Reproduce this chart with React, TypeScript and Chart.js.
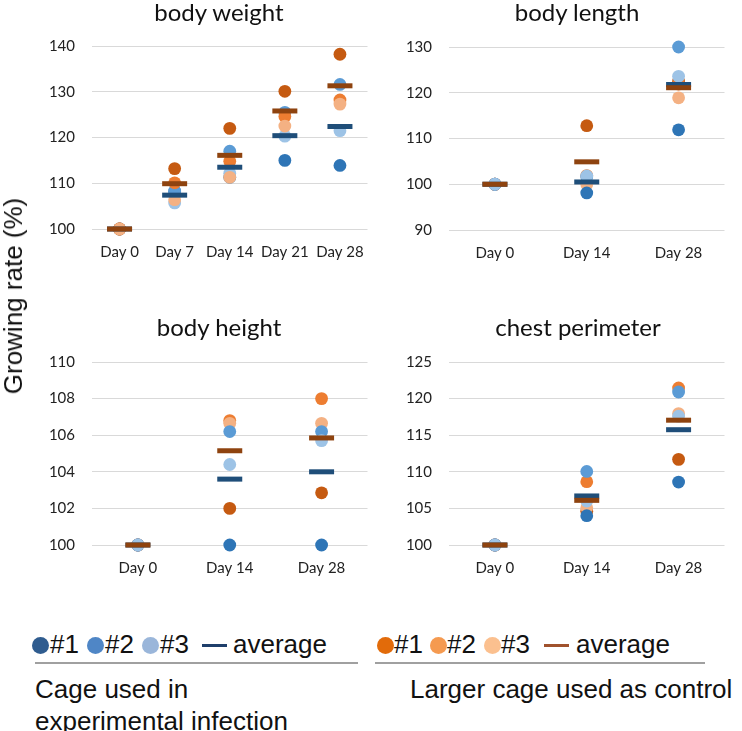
import React, { useEffect, useRef } from "react";
import { Chart, registerables } from "chart.js";

Chart.register(...registerables);

const DAYS_5 = ["Day 0", "Day 7", "Day 14", "Day 21", "Day 28"];
const DAYS_3 = ["Day 0", "Day 14", "Day 28"];

// body weight (%)
const weightCage1 = [100, 108.2, 111.3, 115.0, 113.9];
const weightCage2 = [100, 108.3, 117.0, 125.5, 131.6];
const weightCage3 = [100, 105.7, 112.2, 120.3, 121.5];
const weightCageAvg = [100, 107.4, 113.5, 120.4, 122.4];
const weightCtrl1 = [100, 113.2, 122.0, 130.1, 138.2];
const weightCtrl2 = [100, 110.1, 114.8, 124.6, 128.2];
const weightCtrl3 = [100, 106.4, 111.3, 122.5, 127.3];
const weightCtrlAvg = [100, 109.9, 116.1, 125.8, 131.3];

// body length (%)
const lengthCage1 = [100, 98.1, 111.9];
const lengthCage2 = [100, 101.6, 130.0];
const lengthCage3 = [100, 101.8, 123.6];
const lengthCageAvg = [100, 100.5, 121.8];
const lengthCtrl1 = [100, 112.8, 122.5];
const lengthCtrl2 = [100, 101.9, 121.9];
const lengthCtrl3 = [100, 100.0, 118.9];
const lengthCtrlAvg = [100, 104.9, 121.1];

// body height (%)
const heightCage1 = [100, 100.0, 100.0];
const heightCage2 = [100, 106.2, 106.2];
const heightCage3 = [100, 104.4, 105.7];
const heightCageAvg = [100, 103.6, 104.0];
const heightCtrl1 = [100, 102.0, 102.85];
const heightCtrl2 = [100, 106.8, 108.0];
const heightCtrl3 = [100, 106.65, 106.65];
const heightCtrlAvg = [100, 105.15, 105.85];

// chest perimeter (%)
const chestCage1 = [100, 104.0, 108.6];
const chestCage2 = [100, 110.05, 120.9];
const chestCage3 = [100, 106.0, 117.6];
const chestCageAvg = [100, 106.7, 115.75];
const chestCtrl1 = [100, 104.6, 111.7];
const chestCtrl2 = [100, 108.65, 121.45];
const chestCtrl3 = [100, 105.1, 117.95];
const chestCtrlAvg = [100, 106.1, 117.05];

const LEGEND_LABELS = ["#1", "#2", "#3", "average"];
const GROUP_NAMES = ["Cage used in", "experimental infection", "Larger cage used as control"];
const Y_TITLE = "Growing rate (%)";

const CAGE_COLORS = ["#2E75B6", "#5B9BD5", "#9DC3E6"];
const CAGE_AVG = "#1F4E79";
const CTRL_COLORS = ["#C55A11", "#ED7D31", "#F4B183"];
const CTRL_AVG = "#8E430F";

const LEG_CAGE = ["#2F5C8F", "#4F86C6", "#9AB6DA", "#1F3F6B"];
const LEG_CTRL = ["#E26B0A", "#F59A50", "#FBC08F", "#A0522D"];

const CHART_FONT = "Lato, Calibri, sans-serif";
const LEGEND_FONT = '"Liberation Sans", Arial, sans-serif';

type Panel = {
  title: string;
  labels: string[];
  cage: number[][];
  cageAvg: number[];
  ctrl: number[][];
  ctrlAvg: number[];
  min: number;
  max: number;
  step: number;
  ctrlOnTop: boolean;
};

const PANELS: Panel[] = [
  {
    title: "body weight",
    labels: DAYS_5,
    cage: [weightCage1, weightCage2, weightCage3],
    cageAvg: weightCageAvg,
    ctrl: [weightCtrl1, weightCtrl2, weightCtrl3],
    ctrlAvg: weightCtrlAvg,
    min: 100,
    max: 140,
    step: 10,
    ctrlOnTop: true,
  },
  {
    title: "body length",
    labels: DAYS_3,
    cage: [lengthCage1, lengthCage2, lengthCage3],
    cageAvg: lengthCageAvg,
    ctrl: [lengthCtrl1, lengthCtrl2, lengthCtrl3],
    ctrlAvg: lengthCtrlAvg,
    min: 90,
    max: 130,
    step: 10,
    ctrlOnTop: false,
  },
  {
    title: "body height",
    labels: DAYS_3,
    cage: [heightCage1, heightCage2, heightCage3],
    cageAvg: heightCageAvg,
    ctrl: [heightCtrl1, heightCtrl2, heightCtrl3],
    ctrlAvg: heightCtrlAvg,
    min: 100,
    max: 110,
    step: 2,
    ctrlOnTop: false,
  },
  {
    title: "chest perimeter",
    labels: DAYS_3,
    cage: [chestCage1, chestCage2, chestCage3],
    cageAvg: chestCageAvg,
    ctrl: [chestCtrl1, chestCtrl2, chestCtrl3],
    ctrlAvg: chestCtrlAvg,
    min: 100,
    max: 125,
    step: 5,
    ctrlOnTop: false,
  },
];

// canvas box, chart-area top offset inside the canvas, y-axis width, title centre
type Box = { left: number; top: number; width: number; height: number; padTop: number; yWidth: number; titleX: number; titleY: number };

const BOXES: Box[] = [
  { left: 20, top: 0, width: 365, height: 262, padTop: 46, yWidth: 72, titleX: 219, titleY: 12 },
  { left: 378, top: 0, width: 364, height: 263, padTop: 47, yWidth: 71, titleX: 577, titleY: 12 },
  { left: 20, top: 315, width: 365, height: 263, padTop: 47, yWidth: 72, titleX: 219, titleY: 327 },
  { left: 378, top: 315, width: 364, height: 263, padTop: 47, yWidth: 71, titleX: 578, titleY: 327 },
];

function ChartPanel({ panel, box }: { panel: Panel; box: Box }) {
  const ref = useRef<HTMLCanvasElement>(null);
  useEffect(() => {
    if (!ref.current) return;
    const pts = (data: number[], color: string, avg: boolean) => ({
      data,
      showLine: false,
      clip: false,
      pointStyle: avg ? "line" : "circle",
      pointRadius: avg ? 12.5 : 6.4,
      pointHoverRadius: avg ? 12.5 : 6.4,
      pointBackgroundColor: color,
      pointBorderColor: color,
      pointBorderWidth: avg ? 5 : 0,
      pointHoverBorderWidth: avg ? 5 : 0,
      borderColor: color,
      backgroundColor: color,
    });
    const cageSets = panel.cage.map((d, i) => pts(d, CAGE_COLORS[i], false));
    const ctrlSets = panel.ctrl.map((d, i) => pts(d, CTRL_COLORS[i], false));
    // bottom-to-top painting order; Chart.js paints the first dataset last, so reverse
    const paintOrder = [
      ...(panel.ctrlOnTop ? [...cageSets, ...ctrlSets] : [...ctrlSets, ...cageSets]),
      pts(panel.cageAvg, CAGE_AVG, true),
      pts(panel.ctrlAvg, CTRL_AVG, true),
    ];
    const datasets = paintOrder.slice().reverse();
    const tickFont = { family: CHART_FONT, size: 15 };
    const chart = new Chart(ref.current, {
      type: "line",
      data: { labels: panel.labels, datasets: datasets as any },
      options: {
        responsive: false,
        animation: false,
        events: [],
        layout: { padding: { left: 0, right: 0, top: box.padTop, bottom: 0 } },
        plugins: {
          legend: { display: false },
          tooltip: { enabled: false },
          title: { display: false },
        },
        scales: {
          x: {
            offset: true,
            grid: { display: false, drawTicks: false },
            border: { display: false },
            ticks: { font: tickFont, color: "#222", padding: 14, maxRotation: 0 },
            afterFit: (s: any) => {
              s.height = 33;
            },
          },
          y: {
            min: panel.min,
            max: panel.max,
            grid: { color: "#D9D9D9", lineWidth: 1, drawTicks: false },
            border: { display: false },
            ticks: { stepSize: panel.step, font: tickFont, color: "#222", padding: 17 },
            afterFit: (s: any) => {
              s.width = box.yWidth;
            },
          },
        },
      } as any,
    });
    return () => chart.destroy();
  }, [panel, box]);
  return (
    <>
      <canvas
        ref={ref}
        width={box.width}
        height={box.height}
        style={{ position: "absolute", left: box.left, top: box.top, width: box.width, height: box.height }}
      />
      <div
        style={{
          position: "absolute",
          left: box.titleX,
          top: box.titleY,
          transform: "translate(-50%, -50%)",
          fontFamily: CHART_FONT,
          fontSize: 24,
          lineHeight: "28px",
          color: "#111",
          whiteSpace: "nowrap",
        }}
      >
        {panel.title}
      </div>
    </>
  );
}

function Dot({ x, y, color }: { x: number; y: number; color: string }) {
  return (
    <div
      style={{
        position: "absolute",
        left: x - 8.5,
        top: y - 8.5,
        width: 17,
        height: 17,
        borderRadius: "50%",
        background: color,
      }}
    />
  );
}

const LEG_SIZE = 26;

function Txt({ x, y, text }: { x: number; y: number; text: string }) {
  return (
    <div
      style={{
        position: "absolute",
        left: x,
        top: y - LEG_SIZE * 0.6,
        fontFamily: LEGEND_FONT,
        fontSize: LEG_SIZE,
        lineHeight: `${LEG_SIZE * 1.2}px`,
        color: "#111",
        whiteSpace: "nowrap",
      }}
    >
      {text}
    </div>
  );
}

function LegendGroup({ colors, dotXs, textXs, dashX, avgX, lineX, lineW }: any) {
  const rowY = 645;
  return (
    <>
      {dotXs.map((dx: number, i: number) => (
        <Dot key={i} x={dx} y={rowY} color={colors[i]} />
      ))}
      {textXs.map((tx: number, i: number) => (
        <Txt key={"t" + i} x={tx} y={rowY} text={LEGEND_LABELS[i]} />
      ))}
      <div style={{ position: "absolute", left: dashX, top: rowY - 1.5, width: 25, height: 3, background: colors[3] }} />
      <Txt x={avgX} y={rowY} text={LEGEND_LABELS[3]} />
      <div style={{ position: "absolute", left: lineX, top: 662, width: lineW, height: 1.5, background: "#A0A0A0" }} />
    </>
  );
}

export default function App() {
  return (
    <div style={{ position: "absolute", left: 0, top: 0, width: 742, height: 731, background: "#fff", overflow: "hidden" }}>
      {PANELS.map((p, i) => (
        <ChartPanel key={p.title} panel={p} box={BOXES[i]} />
      ))}
      <div
        style={{
          position: "absolute",
          left: 13,
          top: 296,
          transform: "translate(-50%, -50%) rotate(-90deg)",
          fontFamily: LEGEND_FONT,
          fontSize: 26,
          lineHeight: "30px",
          whiteSpace: "nowrap",
          color: "#111",
        }}
      >
        {Y_TITLE}
      </div>
      <LegendGroup
        colors={LEG_CAGE}
        dotXs={[40, 95, 150]}
        textXs={[50, 105, 160]}
        dashX={202}
        avgX={233}
        lineX={35}
        lineW={323}
      />
      <LegendGroup
        colors={LEG_CTRL}
        dotXs={[385, 438, 492]}
        textXs={[394, 447, 501]}
        dashX={544}
        avgX={576}
        lineX={375}
        lineW={330}
      />
      <Txt x={35} y={690} text={GROUP_NAMES[0]} />
      <Txt x={35} y={722} text={GROUP_NAMES[1]} />
      <Txt x={410} y={690} text={GROUP_NAMES[2]} />
    </div>
  );
}
